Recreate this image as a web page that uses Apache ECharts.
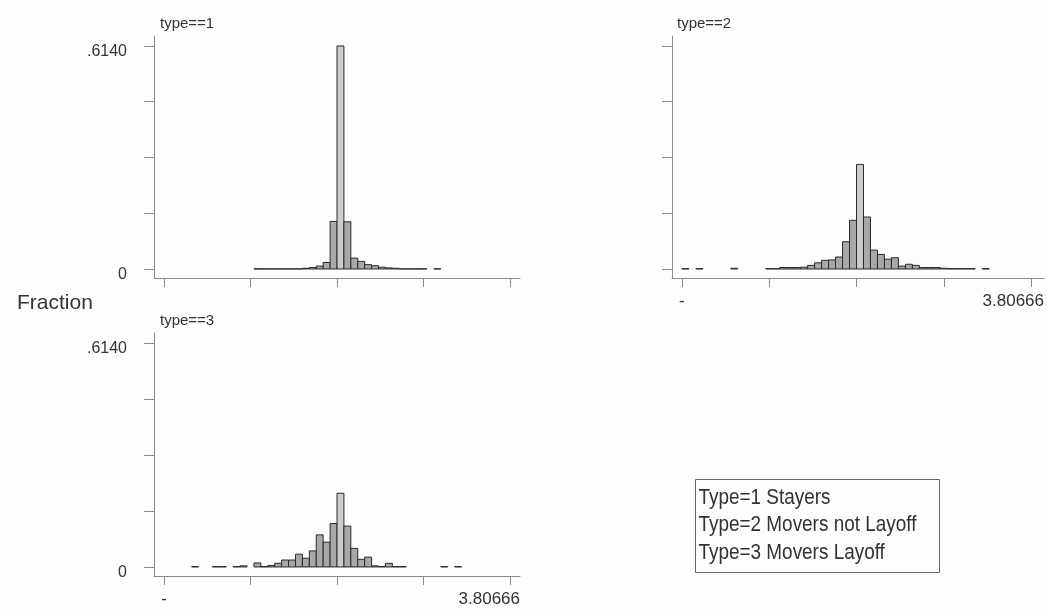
<!DOCTYPE html>
<html>
<head>
<meta charset="utf-8">
<script src="https://cdn.jsdelivr.net/npm/echarts@6/dist/echarts.min.js"></script>
<style>
  html, body { margin: 0; padding: 0; background: #fdfdfd; }
  #main { width: 1047px; height: 613px; }
</style>
</head>
<body>
<div id="main"></div>
<script>
// histogram bins: 50 bins from -3.80666 to 3.80666
const binLo = -3.80666;
const binHi = 3.80666;
const nBins = 50;

// fraction per bin (index = bin number)
const type1 = [0,0,0,0,0,0,0,0,0,0, 0,0,0,0.0005,0.0005,0.0005,0.0005,0.0005,0.0005,0.0005,
  0.002,0.004,0.008,0.018,0.131,0.614,0.130,0.030,0.021,0.012,
  0.009,0.005,0.003,0.002,0.0005,0.0005,0.0005,0.0005,0,0.0005,
  0,0,0,0,0,0,0,0,0,0];
const type2 = [0.001,0,0.001,0,0,0,0,0.002,0,0, 0,0,0.001,0.001,0.004,0.004,0.004,0.005,0.010,0.017,
  0.024,0.025,0.033,0.075,0.134,0.288,0.143,0.052,0.040,0.027,
  0.031,0.008,0.013,0.010,0.004,0.004,0.004,0.002,0.001,0.001,
  0.001,0.001,0,0.001,0,0,0,0,0,0];
const type3 = [0,0,0,0,0.001,0,0,0.001,0.001,0, 0.001,0.003,0,0.011,0.001,0.004,0.010,0.019,0.019,0.035,
  0.024,0.044,0.088,0.068,0.119,0.202,0.112,0.051,0.021,0.027,
  0.003,0.001,0.010,0.001,0.001,0,0,0,0,0,
  0.001,0,0.001,0,0,0,0,0,0,0];

const panelTitles = ['type==1', 'type==2', 'type==3'];
const xTicks = [-3.80666, -1.90333, 0, 1.90333, 3.80666];
const yTicks = [0, 0.1535, 0.307, 0.4605, 0.614];
const legendLines = ['Type=1 Stayers', 'Type=2 Movers not Layoff', 'Type=3 Movers Layoff'];

const FONT = '"Liberation Sans", Arial, sans-serif';
const AXIS_COLOR = '#8a8a8a';

// turn a fraction array into [start, end, value] items
function toBins(arr) {
    const w = (binHi - binLo) / nBins;
    const out = [];
    arr.forEach((v, i) => {
        if (v > 0) out.push([binLo + i * w, binLo + (i + 1) * w, v]);
    });
    return out;
}

function renderBar(params, api) {
    const top = api.coord([api.value(0), api.value(2)]);
    const base = api.coord([api.value(1), 0]);
    const tall = api.value(2) > 0.2;
    return {
        type: 'rect',
        shape: { x: top[0], y: top[1], width: base[0] - top[0], height: base[1] - top[1] },
        style: { fill: tall ? '#cccccc' : '#a8a8a8', stroke: '#2a2a2a', lineWidth: 1 }
    };
}

const grids = [
    { left: 154, top: 36, width: 366, height: 242 },
    { left: 672, top: 36, width: 374, height: 242 },
    { left: 154, top: 333, width: 366, height: 243 }
];
const xRanges = [[-4.0267, 4.0267], [-4.023, 4.088], [-4.0267, 4.0267]];

const xAxes = xRanges.map((r, i) => ({
    type: 'value', gridIndex: i, min: r[0], max: r[1],
    axisLine: { show: true, onZero: false, lineStyle: { color: AXIS_COLOR, width: 1 } },
    axisTick: { show: true, length: 9, customValues: xTicks, lineStyle: { color: AXIS_COLOR } },
    axisLabel: {
        show: i > 0,
        customValues: [xTicks[0], r[1]],
        formatter: v => (v < 0 ? '-' : '3.80666'),
        alignMaxLabel: 'right',
        margin: 15, fontSize: 17, color: '#333', fontFamily: FONT
    },
    splitLine: { show: false }
}));

const yAxes = grids.map((g, i) => ({
    type: 'value', gridIndex: i, min: -0.0248, max: 0.6415,
    axisLine: { show: true, onZero: false, lineStyle: { color: AXIS_COLOR, width: 1 } },
    axisTick: { show: true, length: 10, customValues: yTicks, lineStyle: { color: AXIS_COLOR } },
    axisLabel: {
        show: i !== 1,
        customValues: [0, 0.614],
        formatter: v => (v === 0 ? '0' : '.6140'),
        margin: 27, fontSize: 16, color: '#333', fontFamily: FONT,
        verticalAlign: 'top', padding: [-2, 0, 0, 0]
    },
    splitLine: { show: false }
}));

const seriesData = [type1, type2, type3];

const titleStyle = { fontSize: 15, fontWeight: 'normal', color: '#333', fontFamily: FONT };

const option = {
    backgroundColor: '#fdfdfd',
    animation: false,
    title: [
        { text: panelTitles[0], left: 155, top: 11, textStyle: titleStyle },
        { text: panelTitles[1], left: 672, top: 11, textStyle: titleStyle },
        { text: panelTitles[2], left: 155, top: 308, textStyle: titleStyle },
        { text: 'Fraction', left: 12, top: 288, textStyle: { fontSize: 21, fontWeight: 'normal', color: '#333', fontFamily: FONT } }
    ],
    grid: grids,
    xAxis: xAxes,
    yAxis: yAxes,
    series: seriesData.map((arr, i) => ({
        type: 'custom', xAxisIndex: i, yAxisIndex: i,
        renderItem: renderBar,
        encode: { x: [0, 1], y: 2 },
        data: toBins(arr)
    })),
    graphic: [{
        type: 'group', left: 693, top: 477,
        children: [
            { type: 'rect', shape: { x: 0, y: 0, width: 244, height: 93 }, style: { fill: 'none', stroke: '#666', lineWidth: 1 } }
        ].concat(legendLines.map((t, k) => ({
            type: 'text', x: 3, y: 18 + k * 27.5, scaleX: 0.86,
            style: {
                text: t, fill: '#333', verticalAlign: 'middle',
                font: '22px "Liberation Sans", Arial, sans-serif'
            }
        })))
    }]
};

const chart = echarts.init(document.getElementById('main'));
chart.setOption(option);
</script>
</body>
</html>
